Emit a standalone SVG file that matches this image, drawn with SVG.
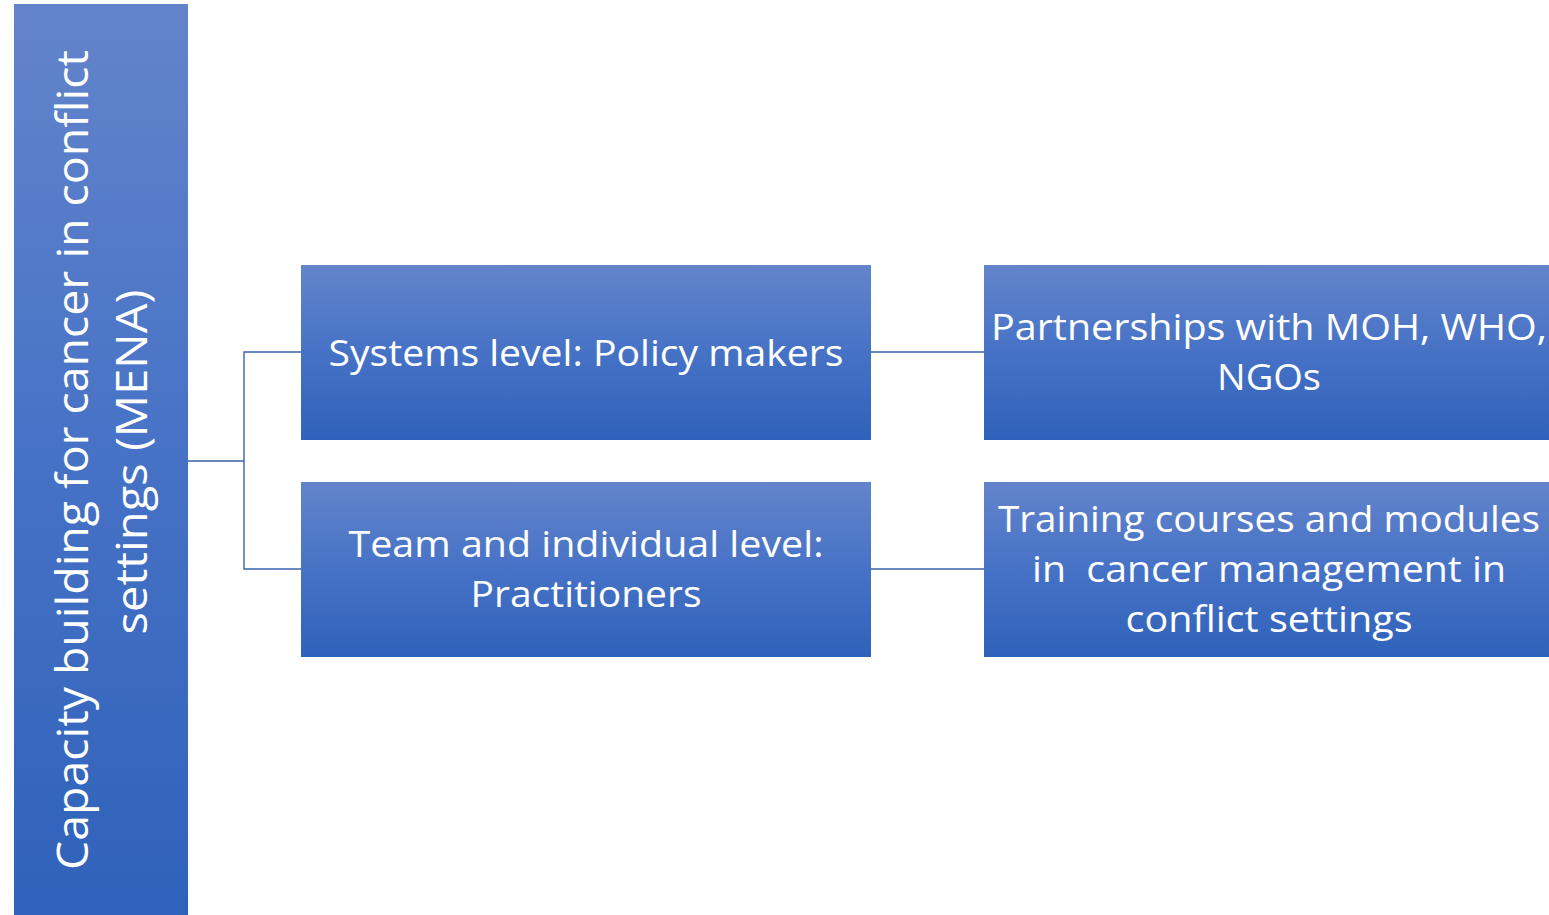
<svg xmlns="http://www.w3.org/2000/svg" width="1549" height="915" viewBox="0 0 1549 915">
<defs>
<linearGradient id="g" x1="0" y1="0" x2="0" y2="1">
<stop offset="0" stop-color="#6384cb"/>
<stop offset="0.5" stop-color="#4672c6"/>
<stop offset="1" stop-color="#2f62ba"/>
</linearGradient>
<style>
.box{fill:url(#g);}
.t{font-family:"Open Sans","Liberation Sans",sans-serif;fill:#ffffff;text-anchor:middle;font-size:37px;}
.tv{font-family:"Open Sans","Liberation Sans",sans-serif;fill:#ffffff;text-anchor:middle;font-size:43px;}
.c{fill:none;stroke:#3a62ad;stroke-width:1.4;}
</style>
</defs>
<rect width="1549" height="915" fill="#ffffff"/>
<g id="connectors">
<polyline class="c" points="188,461 244,461"/>
<polyline class="c" points="301,352 244,352 244,569 301,569"/>
<polyline class="c" points="871,352 984,352"/>
<polyline class="c" points="871,569 984,569"/>
</g>
<g id="root">
<rect class="box" x="14" y="4" width="174" height="911"/>
<text class="tv" transform="translate(88,460) rotate(-90)" textLength="820" lengthAdjust="spacingAndGlyphs">Capacity building for cancer in conflict</text>
<text class="tv" transform="translate(147,462) rotate(-90)" textLength="345" lengthAdjust="spacingAndGlyphs">settings (MENA)</text>
</g>
<g id="systems">
<rect class="box" x="301" y="265" width="570" height="175"/>
<text class="t" x="586" y="366" textLength="515" lengthAdjust="spacingAndGlyphs">Systems level: Policy makers</text>
</g>
<g id="team">
<rect class="box" x="301" y="482" width="570" height="175"/>
<text class="t" x="586" y="557" textLength="475" lengthAdjust="spacingAndGlyphs">Team and individual level:</text>
<text class="t" x="586" y="607" textLength="231" lengthAdjust="spacingAndGlyphs">Practitioners</text>
</g>
<g id="partnerships">
<rect class="box" x="984" y="265" width="565" height="175"/>
<text class="t" x="1269" y="340" textLength="556" lengthAdjust="spacingAndGlyphs">Partnerships with MOH, WHO,</text>
<text class="t" x="1269" y="390" textLength="104" lengthAdjust="spacingAndGlyphs">NGOs</text>
</g>
<g id="training">
<rect class="box" x="984" y="482" width="565" height="175"/>
<text class="t" x="1269" y="532" textLength="542" lengthAdjust="spacingAndGlyphs">Training courses and modules</text>
<text class="t" x="1269" y="582" textLength="474" lengthAdjust="spacingAndGlyphs" xml:space="preserve">in  cancer management in</text>
<text class="t" x="1269" y="632" textLength="287" lengthAdjust="spacingAndGlyphs">conflict settings</text>
</g>
</svg>
